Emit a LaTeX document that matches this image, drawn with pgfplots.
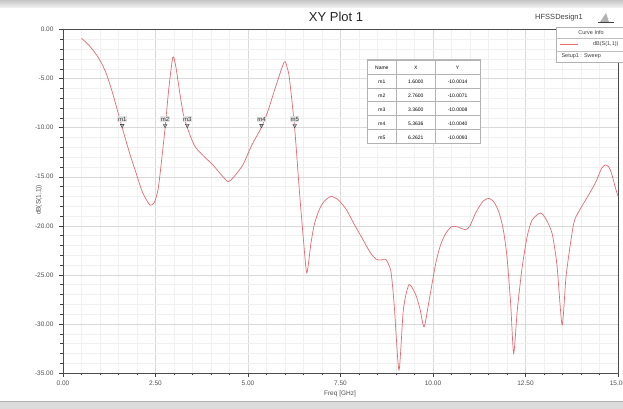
\documentclass[border=0pt]{standalone}
\usepackage{fontspec}
\setmainfont{Liberation Sans}
\usepackage{pgfplots}
\pgfplotsset{compat=1.18}
\usepackage{array}
\usepackage{colortbl}
\definecolor{curve}{RGB}{230,105,115}
\definecolor{lbl}{RGB}{80,80,80}
\begin{document}
\begin{tikzpicture}
\begin{scope}[x=1pt,y=1pt,shift={(-63pt,-36pt)}]
\fill[white] (0,0) rectangle (623,409);
\shade[top color=gray!45, bottom color=gray!8] (0,401) rectangle (623,409);
\fill[gray!28] (0,0) rectangle (623,8);
\draw[gray!60] (0,8) -- (623,8);
\end{scope}
\begin{axis}[anchor=south west, at={(0pt,0pt)}, width=555pt, height=343.5pt, scale only axis,
  xmin=0, xmax=15, ymin=-35, ymax=0,
  xtick={0,2.5,5,7.5,10,12.5,15}, ytick={-35,-30,-25,-20,-15,-10,-5,0},
  minor x tick num=4, minor y tick num=4,
  grid=both,
  major grid style={gray!30, line width=0.4pt},
  minor grid style={gray!12, line width=0.4pt},
  tick align=outside, major tick length=4pt, minor tick length=2.5pt,
  tick style={gray!50!black, line width=0.4pt},
  xtick pos=left, ytick pos=left,
  axis line style={gray!60!black, line width=0.5pt},
  ticklabel style={font=\fontsize{6.5}{7}\selectfont, text=lbl},
  yticklabel style={xshift=-2pt},
  /pgf/number format/assume math mode=true,
  /pgf/number format/fixed, /pgf/number format/fixed zerofill,
  /pgf/number format/precision=2,
  clip=false,
]
\addplot[curve, line width=0.7pt, smooth, tension=0.4] coordinates {
(0.50,-0.9) (0.70,-1.6) (0.91,-2.6) (1.05,-3.5) (1.18,-4.6) (1.35,-6.6)
(1.60,-10.0) (1.80,-12.6) (1.99,-14.8) (2.15,-16.6) (2.35,-17.9) (2.47,-17.6)
(2.57,-16.3) (2.66,-13.5) (2.76,-10.0) (2.86,-6.0) (2.97,-2.8) (3.05,-3.8)
(3.15,-6.3) (3.25,-8.6) (3.36,-10.0) (3.50,-11.4) (3.60,-12.1) (3.80,-12.9)
(4.05,-13.8) (4.30,-14.9) (4.46,-15.5) (4.60,-15.1) (4.86,-13.8) (5.10,-11.8)
(5.36,-10.0) (5.53,-8.4) (5.75,-5.8) (5.98,-3.3) (6.06,-3.9) (6.12,-5.0)
(6.26,-10.0) (6.39,-16.5) (6.50,-21.5) (6.59,-24.8) (6.70,-21.8) (6.79,-19.9)
(6.92,-18.4) (7.06,-17.5) (7.25,-17.0) (7.45,-17.4) (7.65,-18.3) (7.85,-19.7)
(8.09,-21.3) (8.30,-22.7) (8.46,-23.4) (8.60,-23.5) (8.72,-23.4) (8.86,-24.6)
(8.95,-28.0) (9.08,-34.7) (9.20,-28.5) (9.35,-26.0) (9.53,-27.0) (9.65,-28.5)
(9.76,-30.3) (9.90,-27.5) (10.07,-23.9) (10.20,-22.0) (10.34,-20.8) (10.50,-20.1)
(10.65,-20.1) (10.88,-20.4) (11.00,-20.0) (11.15,-18.7) (11.35,-17.5) (11.51,-17.2)
(11.65,-17.6) (11.78,-18.6) (11.90,-20.4) (12.00,-23.2) (12.10,-28.0) (12.18,-33.0)
(12.28,-28.5) (12.41,-24.2) (12.55,-21.0) (12.68,-19.4) (12.90,-18.7) (13.05,-19.3)
(13.22,-20.8) (13.35,-24.0) (13.49,-30.1) (13.60,-25.0) (13.80,-19.8) (13.95,-18.5)
(14.12,-17.4) (14.38,-15.7) (14.55,-14.2) (14.65,-13.8) (14.75,-14.0) (14.83,-14.7)
(14.92,-16.0) (15.00,-17.0)
};
\addplot[only marks, mark=triangle*, mark size=2.2pt,
  mark options={rotate=180, yshift=-2.2pt, fill=gray!55, draw=gray!30!black, line width=0.3pt},
  point meta=explicit symbolic, nodes near coords,
  nodes near coords style={font=\fontsize{6}{6}\selectfont, text=black!80, anchor=south, yshift=3.5pt, inner sep=0.6pt, fill=gray!22}]
coordinates {(1.6000,-10.0014)[m1] (2.7600,-10.0071)[m2] (3.3600,-10.0008)[m3] (5.3636,-10.0040)[m4] (6.2621,-10.0093)[m5]};
\node[draw=gray!55, fill=white, inner sep=0pt, line width=0.8pt] at (axis cs:9.75,-7.35) {%
  \fontsize{5}{6}\selectfont\setlength\tabcolsep{2pt}\renewcommand\arraystretch{2.25}\arrayrulecolor{gray!60}%
  \begin{tabular}{|>{\centering\arraybackslash}p{25pt}|>{\centering\arraybackslash}p{34pt}|>{\centering\arraybackslash}p{41pt}|}
  \hline
  Name & X & Y \\ \hline
  m1 & 1.6000 & -10.0014 \\ \hline
  m2 & 2.7600 & -10.0071 \\ \hline
  m3 & 3.3600 & -10.0008 \\ \hline
  m4 & 5.3636 & -10.0040 \\ \hline
  m5 & 6.2621 & -10.0093 \\ \hline
  \end{tabular}};
\end{axis}
\begin{scope}[x=1pt,y=1pt,shift={(-63pt,-36pt)}]
\node[font=\fontsize{13}{13}\selectfont, text=black!85] at (336,392) {XY Plot 1};
\node[font=\fontsize{7.5}{8}\selectfont, text=black!75] at (559,391) {HFSSDesign1};
\fill[gray!60] (600,387) -- (606,396) -- (609,387) -- cycle;
\draw[gray!50!black, line width=0.6pt] (598,387) -- (614,387);
\node[font=\fontsize{6.5}{7}\selectfont, text=lbl] at (340,15) {Freq [GHz]};
\node[font=\fontsize{6.5}{7}\selectfont, text=lbl, rotate=90] at (39,209) {dB(S(1,1))};
\draw[gray!60, fill=white] (556,347) rectangle (630,382);
\draw[gray!50] (556,371) -- (630,371);
\draw[gray!50] (556,358) -- (630,358);
\node[font=\fontsize{5.5}{6}\selectfont, text=black!75] at (591,376.5) {Curve Info};
\draw[curve, line width=0.8pt] (560,364.5) -- (578,364.5);
\node[font=\fontsize{5.5}{6}\selectfont, text=black!75, anchor=east] at (622,364.5) {dB(S(1,1))};
\node[font=\fontsize{5.5}{6}\selectfont, text=black!75, anchor=west] at (558,352.5) {Setup1 : Sweep};
\pgfresetboundingbox
\path (0,0) rectangle (623,409);
\end{scope}
\end{tikzpicture}
\end{document}
